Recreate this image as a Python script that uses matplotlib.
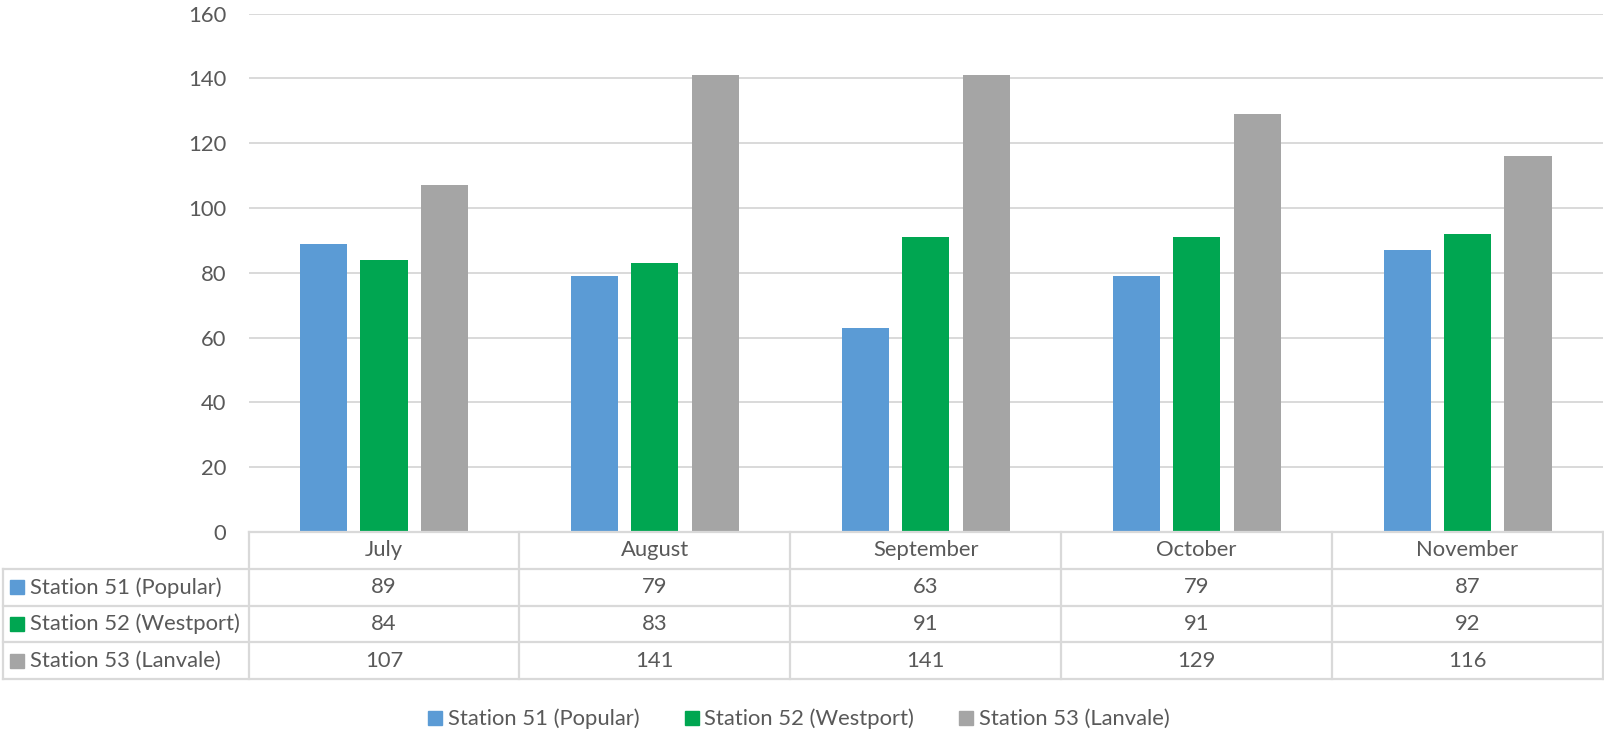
import matplotlib
matplotlib.use("Agg")
import matplotlib.pyplot as plt
from matplotlib.lines import Line2D
from matplotlib.transforms import blended_transform_factory

months = ["July", "August", "September", "October", "November"]
series_names = ["Station 51 (Popular)", "Station 52 (Westport)", "Station 53 (Lanvale)"]
station51 = [89, 79, 63, 79, 87]
station52 = [84, 83, 91, 91, 92]
station53 = [107, 141, 141, 129, 116]
series_values = [station51, station52, station53]
colors = ["#5B9BD5", "#00A651", "#A5A5A5"]
yticks = [0, 20, 40, 60, 80, 100, 120, 140, 160]

W, H = 1604, 735
TEXT = "#595959"
GRID = "#D9D9D9"
FONT = "Lato"
FS = 15.8

plt.rcParams["font.family"] = [FONT, "DejaVu Sans"]

fig = plt.figure(figsize=(W / 100, H / 100), dpi=100)
fig.patch.set_facecolor("white")


def fy(py):
    return 1 - py / H


left_px, right_px = 248.6, 1603
top_px, base_px = 13.5, 532
ax = fig.add_axes([left_px / W, fy(base_px), (right_px - left_px) / W, (base_px - top_px) / H])

n = len(months)
x = list(range(n))
bw = 0.174
step = 0.223
for k, (vals, col, name) in enumerate(zip(series_values, colors, series_names)):
    offs = (k - 1) * step
    ax.bar([xi + offs for xi in x], vals, width=bw, color=col, label=name, zorder=3)

ax.set_xlim(-0.5, n - 0.5)
ax.set_ylim(0, 160)
ax.set_yticks(yticks)
ax.set_yticklabels([str(t) for t in yticks], fontsize=FS, color=TEXT)
ax.set_xticks([])
ax.tick_params(axis="y", length=0, pad=16.0)
ax.grid(axis="y", color=GRID, linewidth=1.4, zorder=0)
for s in ax.spines.values():
    s.set_visible(False)

# data table below the plot
tr = blended_transform_factory(ax.transData, fig.transFigure)
row_edges = [532, 569, 605.6, 642.4, 679]
lw = 1.6


def hline(y, x0, x1, trans):
    fig.add_artist(Line2D([x0, x1], [fy(y), fy(y)], color=GRID, lw=lw, transform=trans))


def vline(xv, y0, y1, trans):
    fig.add_artist(Line2D([xv, xv], [fy(y0), fy(y1)], color=GRID, lw=lw, transform=trans))


# horizontal rules
hline(row_edges[0], -0.5, n - 0.5, tr)
for y in row_edges[1:]:
    fig.add_artist(Line2D([3 / W, right_px / W], [fy(y), fy(y)], color=GRID, lw=lw,
                          transform=fig.transFigure))
# vertical rules between months
for b in range(n + 1):
    vline(b - 0.5, row_edges[0], row_edges[-1], tr)
# left label column
fig.add_artist(Line2D([3 / W, 3 / W], [fy(row_edges[1]), fy(row_edges[-1])], color=GRID,
                      lw=lw, transform=fig.transFigure))

# month headers
hy = (row_edges[0] + row_edges[1]) / 2
for i, m in enumerate(months):
    fig.text(i, fy(hy), m, transform=tr, ha="center", va="center", fontsize=FS, color=TEXT)

# rows
for r, (vals, col, name) in enumerate(zip(series_values, colors, series_names)):
    cy = (row_edges[r + 1] + row_edges[r + 2]) / 2
    fig.add_artist(Line2D([17 / W], [fy(cy)], marker="s", markersize=9.5, color=col,
                          linestyle="none", transform=fig.transFigure))
    fig.text(30 / W, fy(cy), name, ha="left", va="center", fontsize=FS, color=TEXT)
    for i, v in enumerate(vals):
        fig.text(i, fy(cy), str(v), transform=tr, ha="center", va="center",
                 fontsize=FS, color=TEXT)

# legend
handles = [Line2D([], [], marker="s", markersize=10, color=c, linestyle="none") for c in colors]
fig.legend(handles, series_names, loc="center", bbox_to_anchor=(798 / W, fy(719)),
           ncol=3, frameon=False, fontsize=FS, labelcolor=TEXT, handletextpad=0.15,
           columnspacing=2.0, handlelength=0.8)

fig.savefig("out.png", dpi=100)
